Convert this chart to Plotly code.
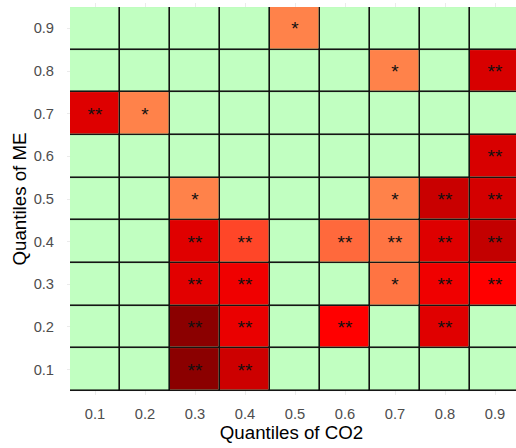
import plotly.graph_objects as go

# Quantile levels
co2_quantiles = [0.1, 0.2, 0.3, 0.4, 0.5, 0.6, 0.7, 0.8, 0.9]
me_quantiles = [0.1, 0.2, 0.3, 0.4, 0.5, 0.6, 0.7, 0.8, 0.9]
tick_labels = ["0.1", "0.2", "0.3", "0.4", "0.5", "0.6", "0.7", "0.8", "0.9"]

# Significance level per cell (rows = ME quantile 0.1..0.9, cols = CO2 quantile 0.1..0.9)
# 0 = not significant, 1 = "*", 2 = "**"
significance = [
    [0, 0, 2, 2, 0, 0, 0, 0, 0],  # ME 0.1
    [0, 0, 2, 2, 0, 2, 0, 2, 0],  # ME 0.2
    [0, 0, 2, 2, 0, 0, 1, 2, 2],  # ME 0.3
    [0, 0, 2, 2, 0, 2, 2, 2, 2],  # ME 0.4
    [0, 0, 1, 0, 0, 0, 1, 2, 2],  # ME 0.5
    [0, 0, 0, 0, 0, 0, 0, 0, 2],  # ME 0.6
    [2, 1, 0, 0, 0, 0, 0, 0, 0],  # ME 0.7
    [0, 0, 0, 0, 0, 0, 1, 0, 2],  # ME 0.8
    [0, 0, 0, 0, 1, 0, 0, 0, 0],  # ME 0.9
]

N = None
strength = [
    [N, N, 1.00, 0.66, N, N, N, N, N],
    [N, N, 1.00, 0.51, N, 0.40, N, 0.56, N],
    [N, N, 0.55, 0.48, N, N, 0.07, 0.48, 0.40],
    [N, N, 0.56, 0.20, N, 0.10, 0.067, 0.57, 0.71],
    [N, N, 0.03, N, N, N, 0.03, 0.68, 0.62],
    [N, N, N, N, N, N, N, N, 0.60],
    [0.57, 0.03, N, N, N, N, N, N, N],
    [N, N, N, N, N, N, 0.03, N, 0.60],
    [N, N, N, N, 0.03, N, N, N, N],
]

star_text = [["*" * s for s in row] for row in significance]
zero_grid = [[0 for _ in co2_quantiles] for _ in me_quantiles]

fig = go.Figure()

# black underlay -> cell borders
fig.add_trace(go.Heatmap(
    x=co2_quantiles, y=me_quantiles, z=zero_grid,
    colorscale=[[0, "#111111"], [1, "#111111"]], showscale=False, hoverinfo="skip",
))
# green base for all cells
fig.add_trace(go.Heatmap(
    x=co2_quantiles, y=me_quantiles, z=zero_grid,
    colorscale=[[0, "#C1FFC1"], [1, "#C1FFC1"]], showscale=False,
    xgap=1.6, ygap=1.6, hoverinfo="skip",
))
# significant cells
fig.add_trace(go.Heatmap(
    x=co2_quantiles, y=me_quantiles, z=strength,
    colorscale=[[0, "#FF8C50"], [0.4, "#FF0000"], [1, "#8B0000"]],
    zmin=0, zmax=1, showscale=False, xgap=1.6, ygap=1.6,
    text=star_text, texttemplate="%{text}",
    textfont=dict(family="Liberation Sans, Arial, sans-serif", size=19, color="#111111"),
    hoverongaps=False,
))

fig.update_layout(
    width=516, height=448,
    margin=dict(l=67, r=0, t=3, b=53),
    paper_bgcolor="white", plot_bgcolor="white",
    font=dict(family="Liberation Sans, Arial, sans-serif"),
    showlegend=False,
)
fig.update_xaxes(
    range=[0.044, 0.942], tickvals=co2_quantiles, ticktext=tick_labels,
    showgrid=True, gridcolor="#EBEBEB", gridwidth=1, zeroline=False,
    ticks="outside", ticklen=5, tickcolor="rgba(0,0,0,0)",
    tickfont=dict(size=14.7, color="#4D4D4D"), automargin=False,
    title=dict(text="Quantiles of CO2", font=dict(size=18.7, color="black"), standoff=2),
)
fig.update_yaxes(
    range=[0.0406, 0.9594], tickvals=me_quantiles, ticktext=tick_labels,
    showgrid=True, gridcolor="#EBEBEB", gridwidth=1, zeroline=False,
    ticks="outside", ticklen=9, tickcolor="rgba(0,0,0,0)",
    tickfont=dict(size=14.7, color="#4D4D4D"), automargin=False,
    title=dict(text="Quantiles of ME", font=dict(size=18.7, color="black"), standoff=2),
)

fig.write_html(
    "out.html",
    config={"displayModeBar": False},
    post_script="document.body.style.margin='0';document.body.style.overflow='hidden';",
)
